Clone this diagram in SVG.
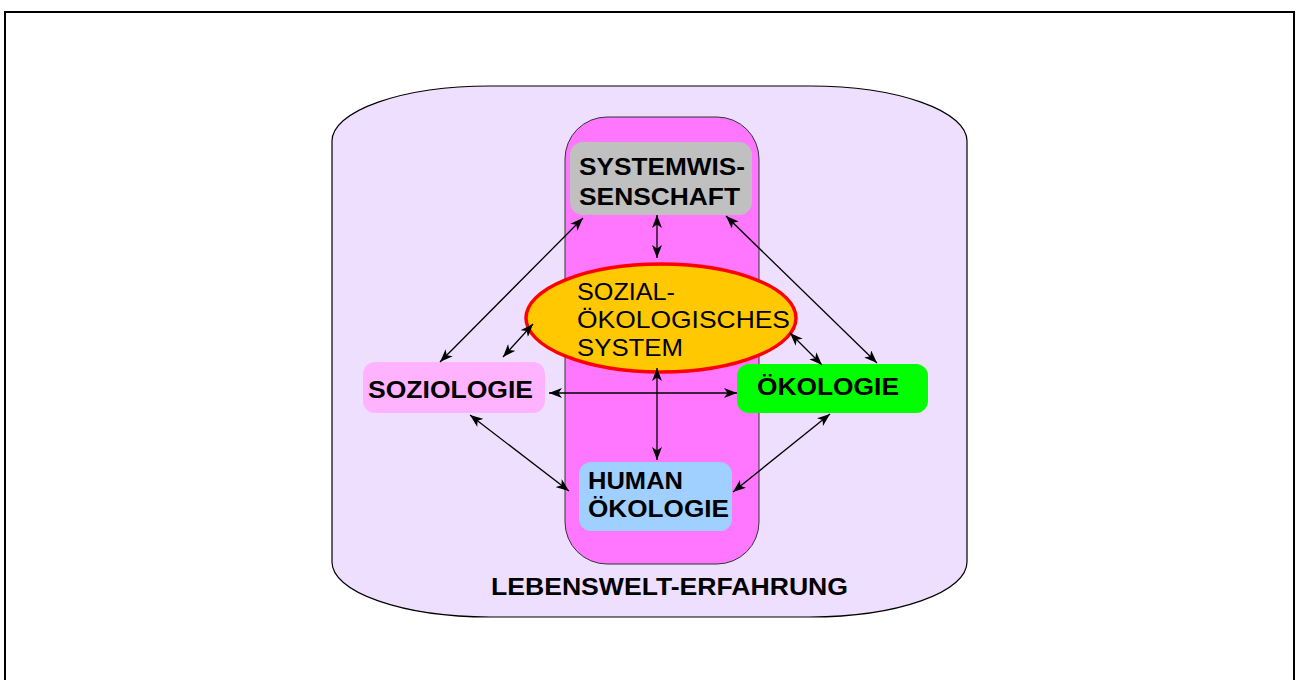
<svg xmlns="http://www.w3.org/2000/svg" width="1297" height="680" viewBox="0 0 1297 680">
<defs>
<marker id="ah" viewBox="0 0 13 10" refX="13" refY="5" markerWidth="13" markerHeight="10" markerUnits="userSpaceOnUse" orient="auto-start-reverse">
<path d="M0,0 L13,5 L0,10 L3.5,5 Z" fill="#000"/>
</marker>
</defs>
<style>
.t{font-family:"Liberation Sans",Arial,sans-serif;font-size:24px;fill:#000}
.b{font-weight:bold}
.c line{stroke:#000;stroke-width:1.3;marker-start:url(#ah);marker-end:url(#ah)}
</style>
<rect x="5" y="12" width="1289" height="700" fill="#fff" stroke="#000" stroke-width="2"/>
<g id="lebenswelt">
<path d="M332,141 A158 55 0 0 1 490,86 L810,86 A157 55 0 0 1 967,141 L967,562 A157 55 0 0 1 810,617 L490,617 A158 55 0 0 1 332,562 Z" fill="#EEDFFF" stroke="#000" stroke-width="1.2"/>
<text class="t b" x="491" y="595" textLength="357" lengthAdjust="spacingAndGlyphs">LEBENSWELT-ERFAHRUNG</text>
</g>
<g id="column">
<rect x="565" y="117" width="194" height="447" rx="42" ry="42" fill="#FF77FF" stroke="#333" stroke-width="1"/>
</g>
<g id="systemwissenschaft">
<rect x="570" y="142" width="182" height="73" rx="13" fill="#C0C0C0"/>
<text class="t b" x="579" y="175" textLength="166" lengthAdjust="spacingAndGlyphs">SYSTEMWIS-</text>
<text class="t b" x="579" y="205" textLength="161" lengthAdjust="spacingAndGlyphs">SENSCHAFT</text>
</g>
<g id="system">
<ellipse cx="661" cy="318" rx="135" ry="54" fill="#FFC800" stroke="#FF0000" stroke-width="3.5"/>
<text class="t" x="577" y="300" textLength="98" lengthAdjust="spacingAndGlyphs">SOZIAL-</text>
<text class="t" x="577" y="328" textLength="213" lengthAdjust="spacingAndGlyphs">ÖKOLOGISCHES</text>
<text class="t" x="577" y="356" textLength="106" lengthAdjust="spacingAndGlyphs">SYSTEM</text>
</g>
<g id="soziologie">
<rect x="363" y="362" width="182" height="51" rx="12" fill="#FFB3FF"/>
<text class="t b" x="368" y="398" textLength="165" lengthAdjust="spacingAndGlyphs">SOZIOLOGIE</text>
</g>
<g id="oekologie">
<rect x="737" y="364" width="191" height="49" rx="12" fill="#00FF00"/>
<text class="t b" x="757" y="395" textLength="142" lengthAdjust="spacingAndGlyphs">ÖKOLOGIE</text>
</g>
<g id="humanoekologie">
<rect x="579" y="462" width="153" height="69" rx="12" fill="#A0D0FF"/>
<text class="t b" x="588" y="489" textLength="95" lengthAdjust="spacingAndGlyphs">HUMAN</text>
<text class="t b" x="588" y="517" textLength="141" lengthAdjust="spacingAndGlyphs">ÖKOLOGIE</text>
</g>
<g id="connectors" class="c">
<line x1="657" y1="215" x2="657" y2="258"/>
<line x1="583" y1="218" x2="440" y2="362"/>
<line x1="726" y1="216" x2="877" y2="363"/>
<line x1="533" y1="324" x2="503" y2="357"/>
<line x1="790" y1="333" x2="822" y2="365"/>
<line x1="657" y1="368" x2="657" y2="460"/>
<line x1="549" y1="393" x2="737" y2="393"/>
<line x1="470" y1="415" x2="569" y2="491"/>
<line x1="830" y1="414" x2="733" y2="492"/>
</g>
</svg>
